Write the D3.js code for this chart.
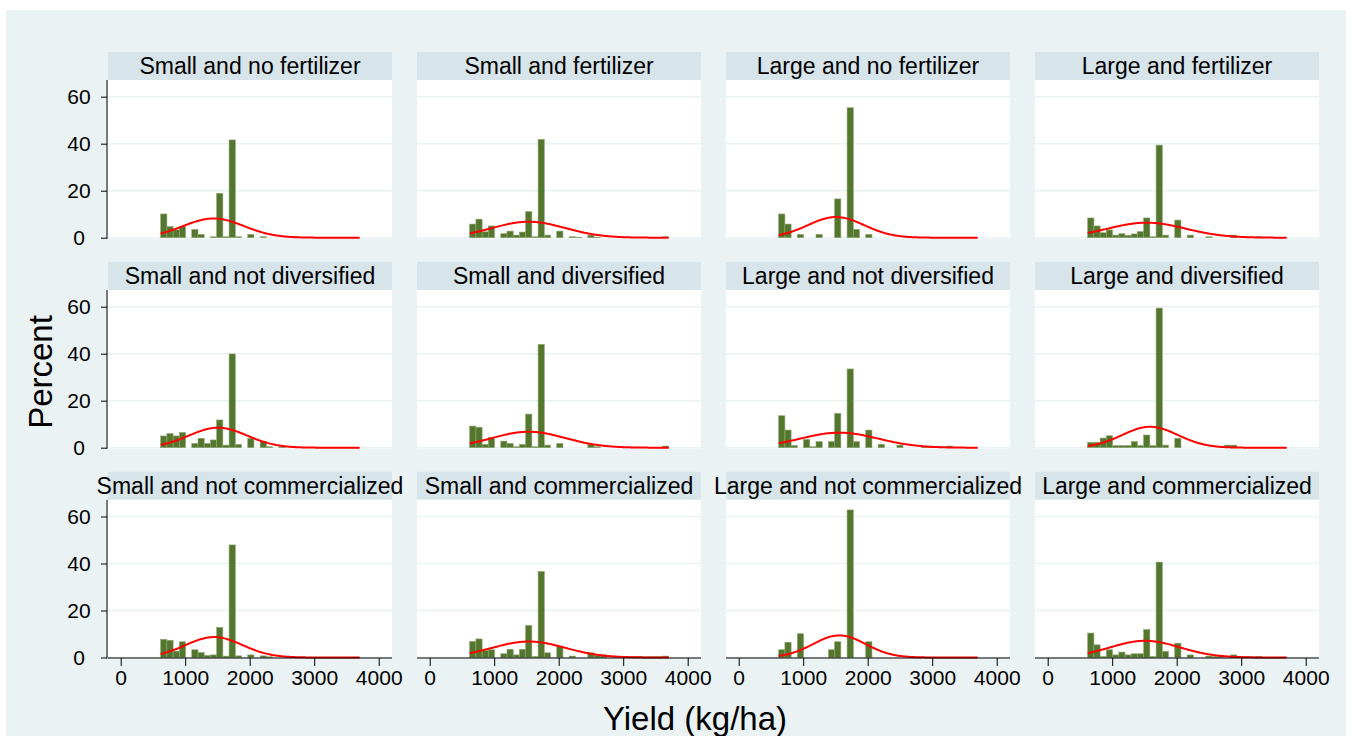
<!DOCTYPE html>
<html>
<head>
<meta charset="utf-8">
<script src="https://cdn.jsdelivr.net/npm/d3@7"></script>
<style>
  body { margin: 0; background: #ffffff; }
  svg { display: block; font-family: Arial, "Liberation Sans", sans-serif; }
</style>
</head>
<body>
<svg id="chart" width="1352" height="736"></svg>
<script>
// Panel titles (by-groups), row by row
const panelTitles = [
  "Small and no fertilizer", "Small and fertilizer", "Large and no fertilizer", "Large and fertilizer",
  "Small and not diversified", "Small and diversified", "Large and not diversified", "Large and diversified",
  "Small and not commercialized", "Small and commercialized", "Large and not commercialized", "Large and commercialized"
];

// Histogram bins shared by all panels (kg/ha)
const binStart = 620;
const binWidth = 96.4;

// Percent of observations in each bin, one array per panel
const pctSmallNoFert   = [10.1, 4.7, 3.3, 4.7, 0, 3.5, 1.4, 0, 0.4, 18.9, 0.4, 41.6, 0.4, 0, 1.4, 0, 0.4, 0, 0, 0, 0, 0.5, 0, 0, 0, 0, 0, 0, 0, 0, 0, 0];
const pctSmallFert     = [5.8, 7.9, 2.5, 5.0, 0, 1.7, 2.8, 1.1, 2.4, 11.1, 0.4, 41.8, 1.1, 0, 2.8, 0, 0.4, 0.2, 0, 1.1, 0.2, 0, 0, 0, 0, 0, 0, 0, 0, 0, 0, 0.4];
const pctLargeNoFert   = [10.1, 5.8, 0, 1.4, 0, 0, 1.4, 0, 0, 16.5, 0, 55.3, 3.5, 0, 1.4, 0, 0, 0, 0, 0, 0, 0, 0, 0, 0, 0, 0, 0, 0, 0, 0, 0];
const pctLargeFert     = [8.4, 5.0, 2.1, 3.3, 1.1, 1.7, 1.0, 1.6, 2.6, 8.4, 0.4, 39.4, 1.1, 0, 7.5, 0, 1.1, 0, 0, 0.4, 0, 0, 0, 1.1, 0, 0.4, 0, 0.4, 0, 0, 0, 0];
const pctSmallNotDiv   = [5.0, 6.0, 5.0, 6.5, 0, 1.8, 4.0, 1.8, 3.3, 11.8, 1.1, 39.9, 1.4, 0, 4.0, 0, 2.6, 0.4, 0, 0.4, 0, 0, 0, 0, 0, 0, 0, 0, 0, 0, 0, 0];
const pctSmallDiv      = [9.2, 8.7, 1.4, 4.4, 0, 2.8, 1.8, 0.4, 1.4, 14.3, 0.4, 44.0, 1.1, 0, 1.8, 0, 0, 0, 0, 1.4, 0.4, 0, 0, 0, 0, 0, 0, 0, 0, 0, 0, 0.7];
const pctLargeNotDiv   = [13.6, 7.5, 0.9, 0, 3.5, 0.4, 2.6, 0, 2.6, 14.6, 0, 33.5, 2.6, 0, 7.5, 0, 1.4, 0, 0, 1.1, 0, 0, 0, 0.5, 0.5, 0.5, 0, 0.7, 0, 0, 0, 0];
const pctLargeDiv      = [2.3, 2.3, 4.1, 5.1, 0.9, 0.9, 0.9, 2.6, 0.9, 5.4, 0.9, 59.4, 1.1, 0, 4.0, 0, 0, 0, 0, 0, 0, 0, 1.1, 1.1, 0, 0, 0, 0, 0, 0, 0, 0];
const pctSmallNotComm  = [7.7, 7.3, 2.7, 6.7, 0, 3.3, 2.1, 0.9, 1.1, 12.8, 0.6, 47.9, 0.7, 0, 1.1, 0, 0.7, 0.3, 0, 0, 0, 0, 0, 0, 0, 0, 0, 0, 0, 0, 0, 0];
const pctSmallComm     = [6.8, 7.9, 3.0, 3.3, 0, 1.6, 3.5, 1.1, 3.5, 13.6, 0.4, 36.6, 2.0, 0, 4.7, 0, 0.6, 0, 0, 2.0, 0.9, 1.1, 0, 0, 0, 0.3, 0.3, 0.3, 0.3, 0.3, 0.3, 0.6];
const pctLargeNotComm  = [3.3, 6.5, 0, 10.1, 0, 0, 0, 0, 3.3, 6.7, 0, 62.8, 0, 0, 6.7, 0, 0, 0, 0, 0, 0, 0, 0, 0, 0, 0, 0, 0, 0, 0, 0, 0];
const pctLargeComm     = [10.4, 5.4, 0.4, 3.3, 1.1, 2.3, 1.1, 1.6, 1.6, 11.9, 0.4, 40.6, 2.6, 0, 6.1, 0, 1.1, 0, 0, 0.6, 0.4, 0.4, 0, 1.1, 0.4, 0.4, 0, 0.4, 0, 0, 0, 0];

const panelPercents = [
  pctSmallNoFert, pctSmallFert, pctLargeNoFert, pctLargeFert,
  pctSmallNotDiv, pctSmallDiv, pctLargeNotDiv, pctLargeDiv,
  pctSmallNotComm, pctSmallComm, pctLargeNotComm, pctLargeComm
];

// Normal density overlay: mean and standard deviation of yield per panel
const normalMean = [1440, 1535, 1509, 1535, 1509, 1535, 1560, 1587, 1447, 1535, 1560, 1509];
const normalSD   = [470, 566, 437, 601, 452, 566, 601, 432, 442, 566, 409, 542];

const xTicks = [0, 1000, 2000, 3000, 4000];
const yTicks = [0, 20, 40, 60];
const yMax = 67.1;

// ---- layout ----
const colLeft = [108, 417, 726, 1035];
const panelW = 284;
const rowBase = [237.7, 447.7, 657.5];
const stripH = 28;
const plotH = yMax * 2.35;

const svg = d3.select("#chart");

// graph region
svg.append("rect").attr("x", 6).attr("y", 10).attr("width", 1340).attr("height", 726).attr("fill", "#EAF2F3");

const x = d3.scaleLinear().domain([0, 4000]).range([12.7, 270.7]);

panelTitles.forEach((title, i) => {
  const col = i % 4, row = Math.floor(i / 4);
  const left = colLeft[col];
  const base = rowBase[row];
  const top = base - plotH;
  const y = d3.scaleLinear().domain([0, yMax]).range([base, top]);
  const g = svg.append("g").attr("transform", `translate(${left},0)`);

  // strip
  g.append("rect").attr("x", 0).attr("y", top - stripH).attr("width", panelW).attr("height", stripH).attr("fill", "#D7E4EA");
  g.append("text").attr("x", panelW / 2).attr("y", top - stripH / 2).attr("dy", "0.36em")
    .attr("text-anchor", "middle").attr("font-size", 23).attr("fill", "#000").text(title);

  // plot region
  g.append("rect").attr("x", 0).attr("y", top).attr("width", panelW).attr("height", base - top + 1).attr("fill", "#ffffff");

  // grid
  g.selectAll("line.grid").data(yTicks).join("line").attr("class", "grid")
    .attr("x1", 0).attr("x2", panelW).attr("y1", d => y(d)).attr("y2", d => y(d))
    .attr("stroke", "#EAF2F3").attr("stroke-width", 1.5);

  // bars
  const pct = panelPercents[i];
  const bins = pct.map((v, k) => ({ x0: binStart + k * binWidth, x1: binStart + (k + 1) * binWidth, v }));
  g.selectAll("rect.bar").data(bins.filter(b => b.v > 0)).join("rect").attr("class", "bar")
    .attr("x", d => x(d.x0)).attr("width", d => x(d.x1) - x(d.x0))
    .attr("y", d => y(d.v)).attr("height", d => y(0) - y(d.v))
    .attr("fill", "#55762E").attr("stroke", "#8DA670").attr("stroke-width", 0.6);

  // normal density, scaled to percent per bin
  const mu = normalMean[i], sd = normalSD[i];
  const xEnd = binStart + pct.length * binWidth;
  const pts = d3.range(0, 201).map(k => {
    const xv = binStart + (xEnd - binStart) * k / 200;
    const z = (xv - mu) / sd;
    return [xv, 100 * binWidth * Math.exp(-0.5 * z * z) / (sd * Math.sqrt(2 * Math.PI))];
  });
  g.append("path").datum(pts)
    .attr("d", d3.line().x(d => x(d[0])).y(d => y(d[1])))
    .attr("fill", "none").attr("stroke", "#FF0000").attr("stroke-width", 2);

  // y axis on the first column
  if (col === 0) {
    const ya = g.append("g").attr("transform", "translate(-1,0)")
      .call(d3.axisLeft(y).tickValues(yTicks).tickSize(6).tickPadding(6));
    ya.select(".domain").attr("d", `M0,${top}V${base + 1}`).attr("stroke", "#000");
    ya.selectAll(".tick line").attr("stroke", "#000");
    ya.selectAll("text").attr("font-size", 21).attr("fill", "#000").attr("font-family", null)
      .attr("text-anchor", "middle").attr("x", -28);
  }
  // x axis on the last row
  if (row === 2) {
    const xa = g.append("g").attr("transform", `translate(0,${base + 0.5})`)
      .call(d3.axisBottom(x).tickValues(xTicks).tickFormat(d3.format("d")).tickSize(8).tickPadding(4));
    xa.select(".domain").attr("d", `M0,0H${panelW}`).attr("stroke", "#000");
    xa.selectAll(".tick line").attr("stroke", "#000");
    xa.selectAll("text").attr("font-size", 21).attr("fill", "#000").attr("font-family", null);
  }
});

// axis titles
svg.append("text").attr("transform", "translate(40,372) rotate(-90)").attr("dy", "0.36em")
  .attr("text-anchor", "middle").attr("font-size", 33).attr("fill", "#000").text("Percent");
svg.append("text").attr("x", 695).attr("y", 718).attr("dy", "0.36em")
  .attr("text-anchor", "middle").attr("font-size", 33).attr("fill", "#000").text("Yield (kg/ha)");
</script>
</body>
</html>
